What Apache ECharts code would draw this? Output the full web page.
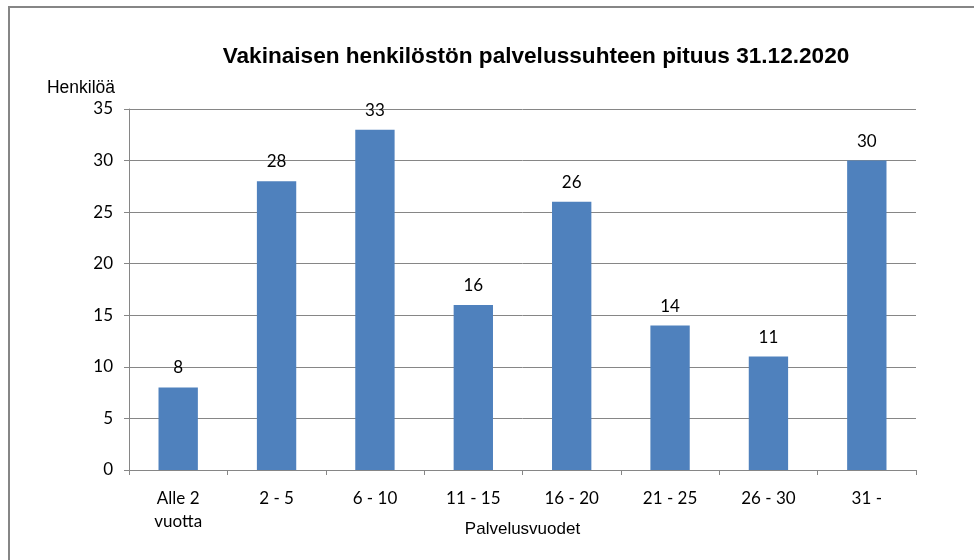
<!DOCTYPE html>
<html>
<head>
<meta charset="utf-8">
<script src="https://cdn.jsdelivr.net/npm/echarts@6/dist/echarts.min.js"></script>
<style>
  html, body { margin: 0; padding: 0; background: #fff; }
  #chart { width: 974px; height: 560px; }
</style>
</head>
<body>
<div id="chart"></div>
<script>
// palvelusvuodet ja henkilömäärät
const categories = ['Alle 2\nvuotta', '2 - 5', '6 - 10', '11 - 15', '16 - 20', '21 - 25', '26 - 30', '31 -']
const persons = [8, 28, 33, 16, 26, 14, 11, 30]
const yTicks = [0, 5, 10, 15, 20, 25, 30, 35]

const chart = echarts.init(document.getElementById('chart'))
const labelFont = 'Lato, "Open Sans", sans-serif'
const arialFont = '"Liberation Sans", Arial, sans-serif'

const option = {
    animation: false,
    title: {
        text: 'Vakinaisen henkilöstön palvelussuhteen pituus 31.12.2020',
        left: 531,
        textAlign: 'center',
        top: 40,
        textStyle: {
            fontFamily: arialFont,
            fontSize: 22.6,
            fontWeight: 'bold',
            color: '#000'
        }
    },
    grid: {
        left: 129,
        right: 58,
        top: 109,
        bottom: 90
    },
    xAxis: {
        type: 'category',
        data: categories,
        name: 'Palvelusvuodet',
        nameLocation: 'middle',
        nameGap: 51,
        nameMoveOverlap: false,
        nameTextStyle: { fontFamily: arialFont, fontSize: 17, color: '#000' },
        axisLine: { lineStyle: { color: '#868686', width: 1 } },
        axisTick: { show: true, length: 5, alignWithLabel: false, lineStyle: { color: '#868686' } },
        axisLabel: {
            fontFamily: labelFont,
            fontSize: 17,
            color: '#000',
            margin: 17,
            lineHeight: 23
        }
    },
    yAxis: {
        type: 'value',
        min: yTicks[0],
        max: yTicks[yTicks.length - 1],
        interval: 5,
        name: 'Henkilöä',
        nameLocation: 'end',
        nameGap: 12,
        nameTextStyle: { fontFamily: arialFont, fontSize: 17.5, color: '#000', align: 'right', padding: [0, 14, 0, 0] },
        axisLine: { show: true, lineStyle: { color: '#868686', width: 1 } },
        axisTick: { show: true, length: 5, lineStyle: { color: '#868686' } },
        axisLabel: { fontFamily: labelFont, fontSize: 17, color: '#000', margin: 16 },
        splitLine: { lineStyle: { color: '#868686', width: 1 } }
    },
    series: [
        {
            type: 'bar',
            data: persons,
            barWidth: '40%',
            itemStyle: { color: '#4F81BD' },
            label: {
                show: true,
                position: 'top',
                distance: 11,
                fontFamily: labelFont,
                fontSize: 17,
                color: '#000'
            }
        }
    ],
    graphic: [
        {
            type: 'rect',
            shape: { x: 9, y: 7, width: 1100, height: 700 },
            style: { fill: 'none', stroke: '#868686', lineWidth: 2 },
            silent: true
        }
    ]
}

chart.setOption(option)
</script>
</body>
</html>
